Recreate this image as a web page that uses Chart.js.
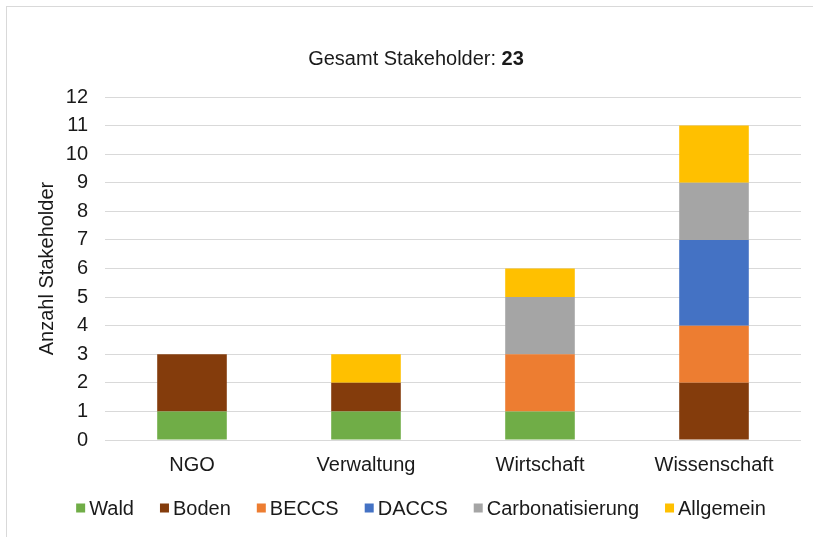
<!DOCTYPE html>
<html>
<head>
<meta charset="utf-8">
<script src="https://cdn.jsdelivr.net/npm/chart.js@4.4.1/dist/chart.umd.min.js"></script>
<style>
  html, body { margin: 0; padding: 0; background: #ffffff; overflow: hidden; }
  #frame { position: absolute; left: 6px; top: 6px; width: 900px; height: 700px; border: 1px solid #d9d9d9; box-sizing: border-box; }
  #wrap { position: absolute; left: 0; top: 0; width: 813px; height: 537px; }
</style>
</head>
<body>
<div id="frame"></div>
<div id="wrap"><canvas id="c" width="813" height="537"></canvas></div>
<script>
const categories = ['NGO', 'Verwaltung', 'Wirtschaft', 'Wissenschaft'];
const wald = [1, 1, 1, 0];
const boden = [2, 1, 0, 2];
const beccs = [0, 0, 2, 2];
const daccs = [0, 0, 0, 3];
const carbonatisierung = [0, 0, 2, 2];
const allgemein = [0, 1, 1, 2];
const yTicks = [0,1,2,3,4,5,6,7,8,9,10,11,12];
const titleLabel = 'Gesamt Stakeholder: ';
const yAxisTitle = 'Anzahl Stakeholder';

const seriesNames = ['Wald', 'Boden', 'BECCS', 'DACCS', 'Carbonatisierung', 'Allgemein'];
const seriesData = [wald, boden, beccs, daccs, carbonatisierung, allgemein];
const seriesColors = ['#70AD47', '#843C0C', '#ED7D31', '#4472C4', '#A5A5A5', '#FFC000'];

const FONT = '"Liberation Sans", Arial, sans-serif';
const TEXT = '#1a1a1a';

const total = seriesData.reduce((s, arr) => s + arr.reduce((a, b) => a + b, 0), 0);

const titlePlugin = {
  id: 'mixedTitle',
  afterDraw(chart) {
    const ctx = chart.ctx;
    ctx.save();
    ctx.textBaseline = 'middle';
    ctx.fillStyle = TEXT;
    ctx.font = '20px ' + FONT;
    const w1 = ctx.measureText(titleLabel).width;
    ctx.font = 'bold 20px ' + FONT;
    const w2 = ctx.measureText(String(total)).width;
    const x0 = 416 - (w1 + w2) / 2;
    const y = 59;
    ctx.font = '20px ' + FONT;
    ctx.textAlign = 'left';
    ctx.fillText(titleLabel, x0, y);
    ctx.font = 'bold 20px ' + FONT;
    ctx.fillText(String(total), x0 + w1, y);
    ctx.restore();
  }
};

const legendPlugin = {
  id: 'customLegend',
  afterDraw(chart) {
    const ctx = chart.ctx;
    ctx.save();
    ctx.font = '20px ' + FONT;
    ctx.textBaseline = 'middle';
    ctx.textAlign = 'left';
    const box = 9, gapBox = 4, gapItem = 26;
    const items = chart.data.datasets.map(ds => ({ label: ds.label, color: ds.backgroundColor, w: ctx.measureText(ds.label).width }));
    let totalW = items.reduce((s, it) => s + box + gapBox + it.w, 0) + gapItem * (items.length - 1);
    let x = 421 - totalW / 2;
    const y = 508;
    items.forEach(it => {
      ctx.fillStyle = it.color;
      ctx.fillRect(x, y - box / 2, box, box);
      ctx.fillStyle = TEXT;
      ctx.fillText(it.label, x + box + gapBox, y + 1);
      x += box + gapBox + it.w + gapItem;
    });
    ctx.restore();
  }
};

new Chart(document.getElementById('c'), {
  type: 'bar',
  data: {
    labels: categories,
    datasets: seriesNames.map((name, i) => ({
      label: name,
      data: seriesData[i],
      backgroundColor: seriesColors[i],
      borderWidth: 0,
      barPercentage: 0.4,
      categoryPercentage: 1.0
    }))
  },
  options: {
    responsive: false,
    animation: false,
    devicePixelRatio: 1,
    layout: { padding: { left: 31, right: 12, top: 97, bottom: 47 } },
    plugins: {
      legend: { display: false },
      title: { display: false },
      tooltip: { enabled: false }
    },
    scales: {
      x: {
        stacked: true,
        grid: { display: false, drawTicks: false },
        border: { display: false },
        ticks: { color: TEXT, font: { family: FONT, size: 20 }, padding: 13 }
      },
      y: {
        stacked: true,
        min: 0,
        max: 12,
        afterBuildTicks(scale) { scale.ticks = yTicks.map(v => ({ value: v })); },
        afterFit(scale) { scale.width = 74; },
        grid: { color: '#d9d9d9', lineWidth: 1, drawTicks: false },
        border: { display: false },
        ticks: { color: TEXT, font: { family: FONT, size: 20 }, padding: 17 },
        title: { display: true, text: yAxisTitle, color: TEXT, font: { family: FONT, size: 20 }, padding: { top: 4, bottom: 4 } }
      }
    }
  },
  plugins: [titlePlugin, legendPlugin]
});
</script>
</body>
</html>
